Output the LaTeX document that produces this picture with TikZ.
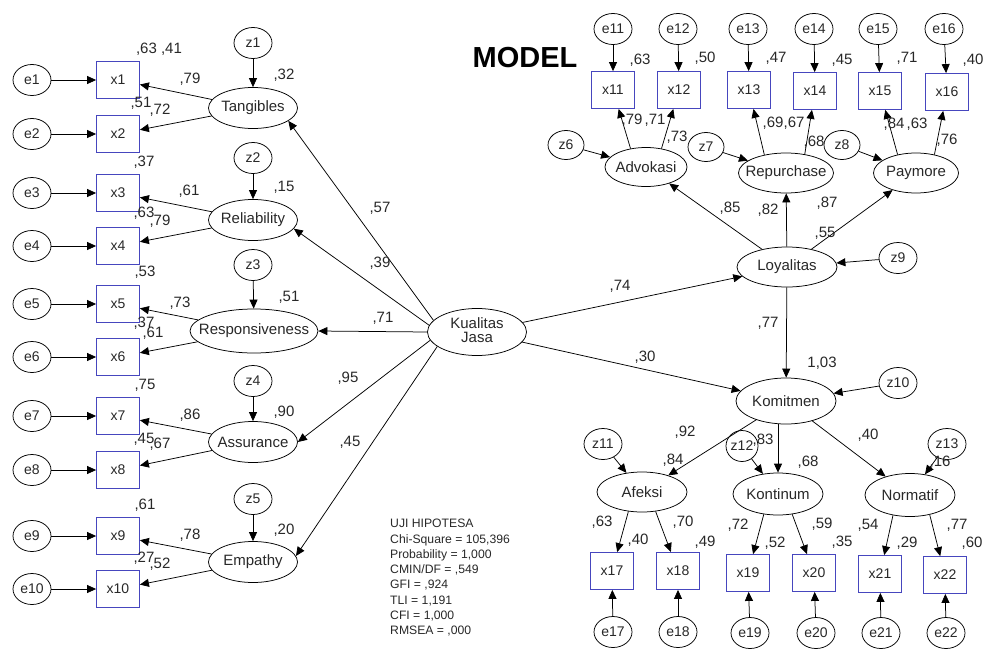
\documentclass[tikz,border=0pt]{standalone}
\usepackage{fontspec}
\setmainfont{Liberation Sans}
\usetikzlibrary{shapes.geometric,arrows.meta}
\definecolor{boxblue}{RGB}{70,70,190}
\definecolor{txt}{RGB}{40,40,40}
\newcommand{\zw}[1]{\makebox[0pt]{#1}}
\begin{document}
\begin{tikzpicture}[x=1pt,y=-1pt,
  font=\fontsize{15}{17}\selectfont, text=txt,
  arr/.style={-{Triangle[length=9pt,width=8pt]}, line width=0.75pt},
  obs/.style={draw=boxblue, line width=0.8pt, minimum width=43pt, minimum height=37pt, inner sep=0pt, font=\fontsize{14}{16}\selectfont},
  err/.style={ellipse, draw, line width=0.75pt, minimum width=38pt, minimum height=31pt, inner sep=0pt, font=\fontsize{14}{16}\selectfont},
  lat/.style={ellipse, draw, line width=0.75pt, inner sep=0pt},
  lbl/.style={inner sep=0pt}]
\path[use as bounding box] (0,0) rectangle (985,648);

% ---------- left measurement part ----------
\foreach \i/\y in {1/80,2/134,3/193,4/246,5/304,6/357,7/416,8/470,9/536,10/589}{
  \node[err] (e\i) at (32,\y) {\zw{e\i}};
  \node[obs] (x\i) at (118,\y) {x\i};
}
\node[err] (z1) at (253,43) {\zw{z1}};
\node[err] (z2) at (253,158) {\zw{z2}};
\node[err] (z3) at (253,265) {\zw{z3}};
\node[err] (z4) at (253,381) {\zw{z4}};
\node[err] (z5) at (253,499) {\zw{z5}};
\node[lat, minimum width=89pt, minimum height=41pt] (T) at (253,108) {\zw{Tangibles}};
\node[lat, minimum width=89pt, minimum height=41pt] (Rel) at (253,220) {\zw{Reliability}};
\node[lat, minimum width=128pt, minimum height=44pt] (Resp) at (254,331) {\zw{Responsiveness}};
\node[lat, minimum width=89pt, minimum height=41pt] (Ass) at (253,442) {\zw{Assurance}};
\node[lat, minimum width=89pt, minimum height=41pt] (Emp) at (253,562) {\zw{Empathy}};
\node[lat, minimum width=99pt, minimum height=47pt] (KJ) at (477,332)
  {\zw{\begin{tabular}{@{}c@{}}Kualitas\\[-3pt]Jasa\end{tabular}}};

\node[font=\fontsize{29}{32}\selectfont\bfseries, text=black] (title) at (525,58) {MODEL};

% ---------- right part ----------
\foreach \i/\x/\y in {11/613/29,12/678/29,13/748/29,14/814/29,15/878/29,16/944/29,
                      17/613/632,18/678/632,19/750/633,20/816/633,21/881/633,22/946/633}{
  \node[err] (e\i) at (\x,\y) {\zw{e\i}};
}
\foreach \i/\x/\y in {11/613/90,12/679/90,13/749/90,14/815/91,15/880/91,16/947/92,
                      17/612/571,18/678/571,19/748/573,20/814/573,21/880/574,22/945/575}{
  \node[obs] (x\i) at (\x,\y) {x\i};
}
\node[err, minimum width=36pt, minimum height=29pt] (z6) at (566,145) {\zw{z6}};
\node[err, minimum width=36pt, minimum height=29pt] (z7) at (706,147) {\zw{z7}};
\node[err, minimum width=36pt, minimum height=29pt] (z8) at (842,145) {\zw{z8}};
\node[err] (z9) at (898,258) {\zw{z9}};
\node[err] (z10) at (898,383) {\zw{z10}};
\node[err] (z11) at (603,444) {\zw{z11}};
\node[err, minimum width=32pt] (z12) at (742,446) {\zw{z12}};
\node[err] (z13) at (947,444) {\zw{z13}};

\node[lat, minimum width=82pt, minimum height=39pt] (Adv) at (646,167) {\zw{Advokasi}};
\node[lat, minimum width=95pt, minimum height=40pt] (Rep) at (786,173) {\zw{Repurchase}};
\node[lat, minimum width=85pt, minimum height=40pt] (Pay) at (916,173) {\zw{Paymore}};
\node[lat, minimum width=100pt, minimum height=40pt] (Loy) at (787,267) {\zw{Loyalitas}};
\node[lat, minimum width=100pt, minimum height=46pt] (Kom) at (786,401) {\zw{Komitmen}};
\node[lat, minimum width=90pt, minimum height=40pt] (Afe) at (642,492) {\zw{Afeksi}};
\node[lat, minimum width=90pt, minimum height=42pt] (Kon) at (778,494) {\zw{Kontinum}};
\node[lat, minimum width=90pt, minimum height=43pt] (Nor) at (910,495) {\zw{Normatif}};

% ---------- connectors ----------
\foreach \i in {1,...,22}{ \draw[arr] (e\i) -- (x\i); }
\draw[arr] (z1) -- (T);
\draw[arr] (z2) -- (Rel);
\draw[arr] (z3) -- (Resp);
\draw[arr] (z4) -- (Ass);
\draw[arr] (z5) -- (Emp);
\draw[arr] (T) -- (x1);  \draw[arr] (T) -- (x2);
\draw[arr] (Rel) -- (x3);  \draw[arr] (Rel) -- (x4);
\draw[arr] (Resp) -- (x5);  \draw[arr] (Resp) -- (x6);
\draw[arr] (Ass) -- (x7);  \draw[arr] (Ass) -- (x8);
\draw[arr] (Emp) -- (x9);  \draw[arr] (Emp) -- (x10);
\draw[arr] (KJ.165) -- (T.-20);
\draw[arr] (KJ.172) -- (Rel.-12);
\draw[arr] (KJ.west) -- (Resp.east);
\draw[arr] (KJ.190) -- (Ass.0);
\draw[arr] (KJ.200) -- (Emp.8);
\draw[arr] (KJ) -- (Loy);
\draw[arr] (KJ) -- (Kom);
\draw[arr] (Loy) -- (Adv);
\draw[arr] (Loy) -- (Rep);
\draw[arr] (Loy) -- (Pay);
\draw[arr] (Loy) -- (Kom);
\draw[arr] (z9) -- (Loy);
\draw[arr] (z10) -- (Kom);
\draw[arr] (z6) -- (Adv);
\draw[arr] (z7) -- (Rep);
\draw[arr] (z8) -- (Pay);
\draw[arr] (Adv.130) -- (x11);  \draw[arr] (Adv.50) -- (x12);
\draw[arr] (Rep.140) -- (x13);  \draw[arr] (Rep.45) -- (x14);
\draw[arr] (Pay.135) -- (x15);  \draw[arr] (Pay.45) -- (x16);
\draw[arr] (Kom) -- (Afe);
\draw[arr] (Kom.south -| Kon.north) -- (Kon.north);
\draw[arr] (Kom) -- (Nor);
\draw[arr] (z11) -- (Afe);
\draw[arr] (z12) -- (Kon);
\draw[arr] (z13) -- (Nor);
\draw[arr] (Afe.235) -- (x17);  \draw[arr] (Afe.305) -- (x18);
\draw[arr] (Kon.235) -- (x19);  \draw[arr] (Kon.305) -- (x20);
\draw[arr] (Nor.230) -- (x21);  \draw[arr] (Nor.315) -- (x22);

% ---------- coefficient labels ----------
\foreach \x/\y/\t [count=\i] in {
  159/49/{,63 ,41}, 284/75/{,32}, 190/79/{,79}, 141/103/{,51}, 160/110/{,72},
  144/162/{,37}, 284/187/{,15}, 189/191/{,61}, 144/213/{,63}, 160/221/{,79},
  145/272/{,53}, 289/297/{,51}, 180/303/{,73}, 144/323/{,37}, 153/333/{,61},
  145/385/{,75}, 284/412/{,90}, 190/415/{,86}, 144/439/{,45}, 160/444/{,67},
  145/505/{,61}, 284/530/{,20}, 190/535/{,78}, 144/558/{,27}, 160/564/{,52},
  380/208/{,57}, 380/263/{,39}, 383/318/{,71}, 348/378/{,95}, 350/442/{,45}}{
  \node[lbl] (la\i) at (\x,\y) {\t};
}
\foreach \x/\y/\t [count=\i] in {
  640/60/{,63}, 705/58/{,50}, 776/58/{,47}, 842/60/{,45}, 907/58/{,71}, 973/60/{,40},
  632/120/{,79}, 655/120/{,71}, 677/137/{,73}, 773/123/{,69}, 794/123/{,67}, 814/142/{,68},
  894/124/{,84}, 917/124/{,63}, 947/140/{,76},
  730/208/{,85}, 768/210/{,82}, 827/203/{,87}, 825/233/{,55},
  620/286/{,74}, 645/357/{,30}, 768/323/{,77}, 822/363/{1,03},
  685/432/{,92}, 673/460/{,84}, 763/440/{,83}, 808/462/{,68}, 868/435/{,40}, 940/462/{,16},
  602/522/{,63}, 638/540/{,40}, 683/522/{,70}, 705/542/{,49},
  738/525/{,72}, 775/543/{,52}, 822/524/{,59}, 842/542/{,35},
  868/525/{,54}, 907/543/{,29}, 957/525/{,77}, 972/543/{,60}}{
  \node[lbl] (lb\i) at (\x,\y) {\t};
}

% ---------- fit statistics ----------
\node[lbl, anchor=north west, align=left, font=\fontsize{12.2}{15.3}\selectfont] (stats) at (390,519)
 {UJI HIPOTESA\\Chi-Square = 105,396\\Probability = 1,000\\CMIN/DF = ,549\\GFI = ,924\\TLI = 1,191\\CFI = 1,000\\RMSEA = ,000};
\end{tikzpicture}
\end{document}
